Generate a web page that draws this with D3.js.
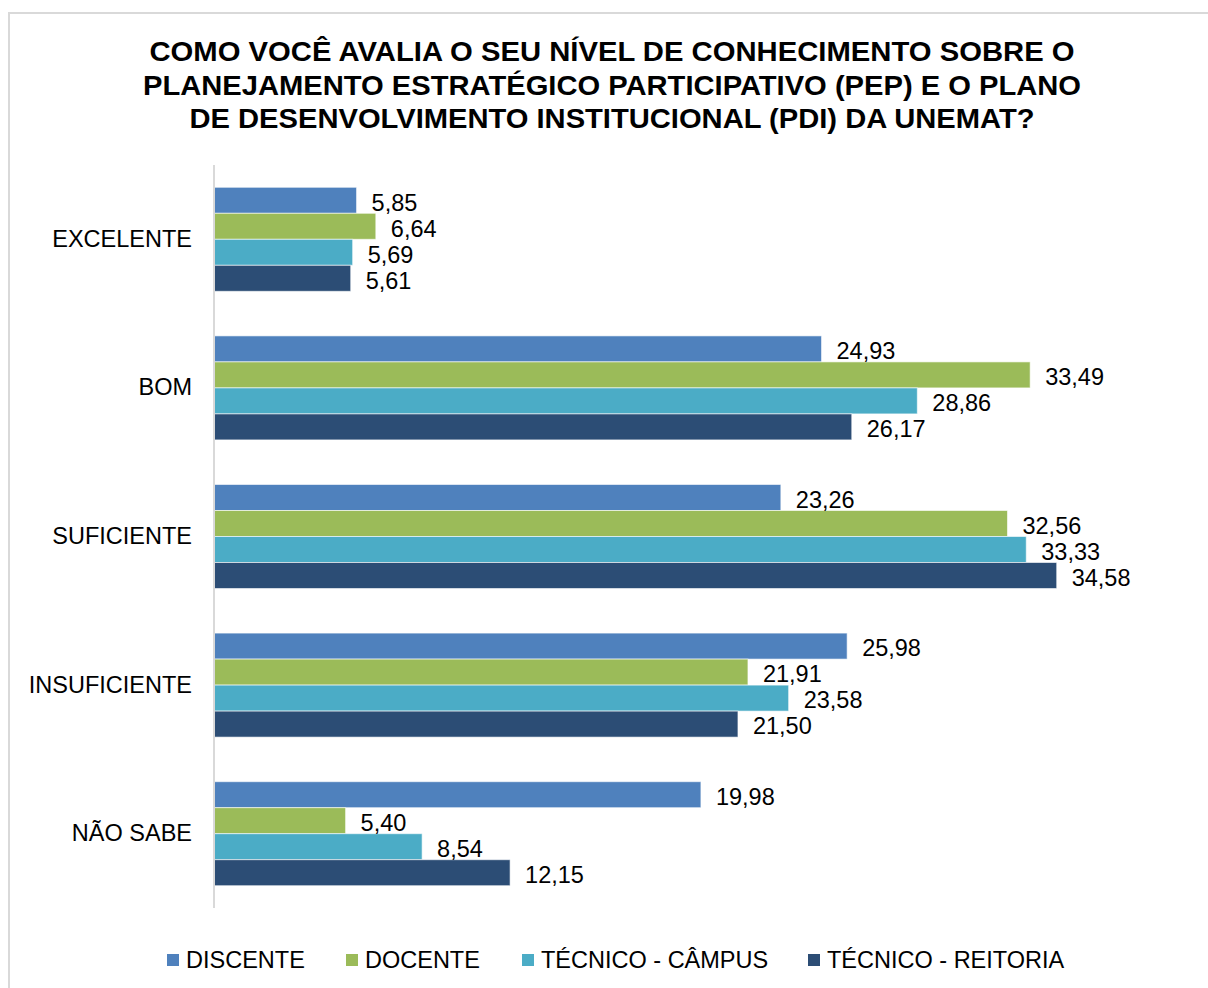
<!DOCTYPE html>
<html>
<head>
<meta charset="utf-8">
<script src="https://cdn.jsdelivr.net/npm/d3@7"></script>
<style>
  body { margin: 0; background: #fff; }
  svg text { font-family: "Liberation Sans", Arial, sans-serif; fill: #000; }
</style>
</head>
<body>
<svg id="chart" width="1208" height="988"></svg>
<script>
const categories = ["EXCELENTE", "BOM", "SUFICIENTE", "INSUFICIENTE", "NÃO SABE"];
const seriesNames = ["DISCENTE", "DOCENTE", "TÉCNICO - CÂMPUS", "TÉCNICO - REITORIA"];
const discente = [5.85, 24.93, 23.26, 25.98, 19.98];
const docente = [6.64, 33.49, 32.56, 21.91, 5.40];
const tecnicoCampus = [5.69, 28.86, 33.33, 23.58, 8.54];
const tecnicoReitoria = [5.61, 26.17, 34.58, 21.50, 12.15];
const titleLines = [
    "COMO VOCÊ AVALIA O SEU NÍVEL DE CONHECIMENTO SOBRE O",
    "PLANEJAMENTO ESTRATÉGICO PARTICIPATIVO (PEP) E O PLANO",
    "DE DESENVOLVIMENTO INSTITUCIONAL (PDI) DA UNEMAT?"
];
const titleWidths = [925, 938, 845];
const colors = ["#4F81BD", "#9BBB59", "#4BACC6", "#2C4D75"];

const series = [discente, docente, tecnicoCampus, tecnicoReitoria];
const svg = d3.select("#chart");

// outer frame
svg.append("rect")
    .attr("x", 9).attr("y", 13)
    .attr("width", 1220).attr("height", 1000)
    .attr("fill", "none")
    .attr("stroke", "#d9d9d9")
    .attr("stroke-width", 2);

// title
svg.append("g").selectAll("text")
    .data(titleLines)
    .join("text")
    .attr("x", 612)
    .attr("y", (d, i) => 61 + i * 33.5)
    .attr("text-anchor", "middle")
    .attr("textLength", (d, i) => titleWidths[i])
    .attr("lengthAdjust", "spacingAndGlyphs")
    .style("font-size", "28px")
    .style("font-weight", "bold")
    .text(d => d);

const plotLeft = 214, plotTop = 165, plotBottom = 908;

const x = d3.scaleLinear()
    .domain([0, 40])
    .range([plotLeft, plotLeft + 40 * 24.37]);

const y0 = d3.scaleBand()
    .domain(categories)
    .range([plotTop, plotBottom])
    .paddingInner(0.3)
    .paddingOuter(0.15);

const y1 = d3.scaleBand()
    .domain(d3.range(seriesNames.length))
    .range([0, y0.bandwidth()]);

const groups = svg.append("g").selectAll("g")
    .data(categories)
    .join("g")
    .attr("transform", d => `translate(0, ${y0(d)})`);

groups.selectAll("rect")
    .data((c, ci) => series.map((s, si) => ({ si, v: s[ci] })))
    .join("rect")
    .attr("x", x(0))
    .attr("y", d => y1(d.si))
    .attr("width", d => x(d.v) - x(0))
    .attr("height", y1.bandwidth())
    .attr("fill", d => colors[d.si])
    .attr("stroke", "#fff")
    .attr("stroke-opacity", 0.6)
    .attr("stroke-width", 1);

groups.selectAll("text.value")
    .data((c, ci) => series.map((s, si) => ({ si, v: s[ci] })))
    .join("text")
    .attr("class", "value")
    .attr("x", d => x(d.v) + 15)
    .attr("y", d => y1(d.si) + y1.bandwidth() / 2 + 2)
    .attr("dy", "0.35em")
    .style("font-size", "23.5px")
    .text(d => d.v.toFixed(2).replace(".", ","));

// category axis
const yAxis = svg.append("g")
    .attr("transform", `translate(${plotLeft}, 0)`)
    .call(d3.axisLeft(y0).tickSize(0).tickPadding(22));
yAxis.select(".domain")
    .attr("d", `M0,${plotTop}V${plotBottom}`)
    .attr("stroke", "#d9d9d9")
    .attr("stroke-width", 2);
yAxis.selectAll(".tick text")
    .style("font-size", "23.5px")
    .style("font-family", "'Liberation Sans', Arial, sans-serif")
    .attr("fill", "#000");

// legend
const legendX = [167, 346, 522, 808];
const legend = svg.append("g").selectAll("g")
    .data(seriesNames)
    .join("g")
    .attr("transform", (d, i) => `translate(${legendX[i]}, 960)`);
legend.append("rect")
    .attr("x", 0).attr("y", -6)
    .attr("width", 12).attr("height", 12)
    .attr("fill", (d, i) => colors[i]);
legend.append("text")
    .attr("x", 19)
    .attr("dy", "0.35em")
    .style("font-size", "23.5px")
    .text(d => d);
</script>
</body>
</html>
